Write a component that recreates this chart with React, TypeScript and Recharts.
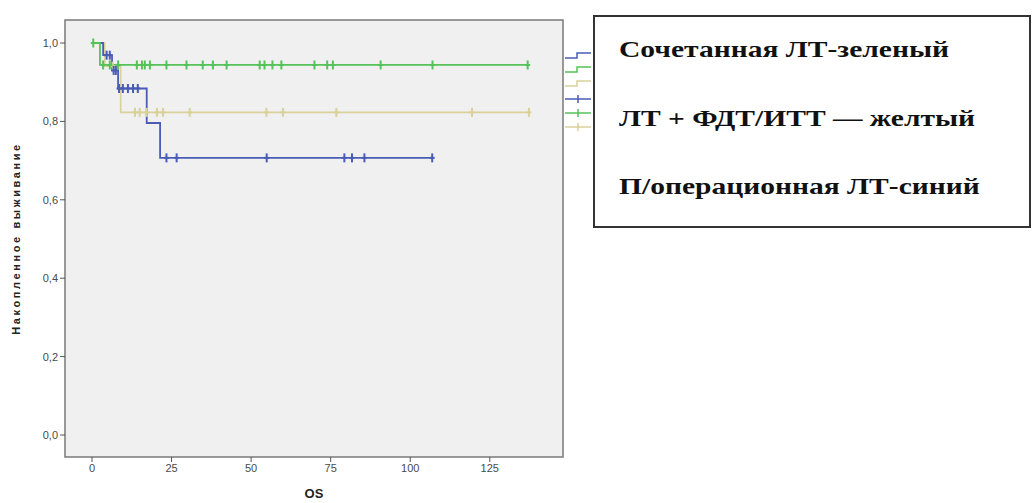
import {
  ComposedChart,
  Line,
  Scatter,
  XAxis,
  YAxis,
  CartesianGrid,
  ReferenceArea,
} from 'recharts';

// survival step curves: time (months) and cumulative survival
const greenTimes = [0, 2.5, 137];
const greenSurv = [1, 0.944, 0.944];
const greenCensorTimes = [3.5, 5.6, 8.2, 14.1, 15.7, 16.6, 18.2, 23.4, 29.7, 34.8, 38, 42.3, 52.7, 54.2, 56.7, 59.5, 69.9, 73.9, 75.7, 90.7, 107, 136.9];
const greenStartCensor = [0.4];

const yellowTimes = [0, 4, 9, 137.3];
const yellowSurv = [1, 0.941, 0.823, 0.823];
const yellowCensorTimes = [13.5, 15, 17.2, 20.4, 22.3, 30.7, 54.8, 60, 76.8, 119.4, 137.3];
const yellowMidCensor = [6.5];

const blueTimes = [0, 3.5, 6.3, 8.2, 17.2, 21.4, 106.9];
const blueSurv = [1, 0.969, 0.93, 0.884, 0.796, 0.707, 0.707];
const blueCensor969 = [4.6, 5.6];
const blueCensor930 = [6.8, 7.5];
const blueCensor884 = [8.5, 9.7, 11.3, 12.9, 14.4];
const blueCensor707 = [23.4, 26.6, 54.9, 79.3, 81.7, 85.6, 106.9];

const xTicks = [0, 25, 50, 75, 100, 125];
const yTicks = [0, 0.2, 0.4, 0.6, 0.8, 1];

const legendLines = [
  'Сочетанная ЛТ-зеленый',
  'ЛТ + ФДТ/ИТТ — желтый',
  'П/операционная ЛТ-синий',
];

const GREEN = '#55c25a';
const YELLOW = '#d9d19a';
const BLUE = '#4a5cb6';

const steps = (times: number[], surv: number[]) =>
  times.map((t, i) => ({ t, s: surv[i] }));
const marks = (times: number[], s: number) => times.map((t) => ({ t, s }));

const greenData = steps(greenTimes, greenSurv);
const yellowData = steps(yellowTimes, yellowSurv);
const blueData = steps(blueTimes, blueSurv);

const greenMarks = [...marks(greenStartCensor, 1), ...marks(greenCensorTimes, 0.944)];
const yellowMarks = [...marks(yellowMidCensor, 0.941), ...marks(yellowCensorTimes, 0.823)];
const blueMarks = [
  ...marks(blueCensor969, 0.969),
  ...marks(blueCensor930, 0.93),
  ...marks(blueCensor884, 0.884),
  ...marks(blueCensor707, 0.707),
];

const X_MIN = -8.48;
const X_MAX = 148;
const Y_MIN = -0.0561;
const Y_MAX = 1.0587;

const censorShape = (color: string) => (props: any) => {
  const { cx, cy } = props;
  return (
    <g>
      <line x1={cx} x2={cx} y1={cy - 4.5} y2={cy + 4.5} stroke={color} strokeWidth={2} />
      <line x1={cx - 2.5} x2={cx + 2.5} y1={cy} y2={cy} stroke={color} strokeWidth={2} />
    </g>
  );
};

// the cut-off SPSS legend glyphs peeking out from behind the text box
const SpssLegend = () => (
  <svg width={30} height={90} style={{ position: 'absolute', left: 563, top: 50 }}>
    <path d="M2 8 H14 V3 H28" fill="none" stroke={BLUE} strokeWidth={1.5} />
    <path d="M2 22 H14 V17 H28" fill="none" stroke={GREEN} strokeWidth={1.5} />
    <path d="M2 36 H14 V31 H28" fill="none" stroke={YELLOW} strokeWidth={1.5} />
    <g stroke={BLUE} strokeWidth={1.5}>
      <line x1={2} x2={28} y1={49} y2={49} />
      <line x1={15} x2={15} y1={45} y2={53} />
    </g>
    <g stroke={GREEN} strokeWidth={1.5}>
      <line x1={2} x2={28} y1={63} y2={63} />
      <line x1={15} x2={15} y1={59} y2={67} />
    </g>
    <g stroke={YELLOW} strokeWidth={1.5}>
      <line x1={2} x2={28} y1={77} y2={77} />
      <line x1={15} x2={15} y1={73} y2={81} />
    </g>
  </svg>
);

const App = () => {
  return (
    <div
      style={{
        position: 'absolute',
        left: 0,
        top: 0,
        width: 1036,
        height: 503,
        background: '#fff',
        fontFamily: 'Arial, "Liberation Sans", sans-serif',
      }}
    >
      <ComposedChart
        width={1036}
        height={503}
        margin={{ top: 20, right: 473, bottom: 0, left: 0 }}
      >
        <CartesianGrid horizontal={false} vertical={false} fill='#f0f0f0' />
        <ReferenceArea
          x1={X_MIN}
          x2={X_MAX}
          y1={Y_MIN}
          y2={Y_MAX}
          fill='#f0f0f0'
          fillOpacity={1}
          stroke='#7a7a7a'
          strokeWidth={1.5}
          ifOverflow='visible'
        />
        <XAxis
          type='number'
          dataKey='t'
          domain={[X_MIN, X_MAX]}
          ticks={xTicks}
          allowDataOverflow
          axisLine={false}
          tickLine={{ stroke: '#555' }}
          tickSize={5}
          tick={{ fontSize: 11, fill: '#4a4a4a' }}
          height={46}
          label={{
            value: 'OS',
            position: 'insideBottom',
            offset: 5,
            style: { fontSize: 13, fontWeight: 700, fill: '#222' },
          }}
        />
        <YAxis
          type='number'
          dataKey='s'
          domain={[Y_MIN, Y_MAX]}
          ticks={yTicks}
          allowDataOverflow
          axisLine={false}
          tickLine={{ stroke: '#555' }}
          tickSize={5}
          tick={{ fontSize: 11, fill: '#4a4a4a' }}
          tickFormatter={(v: number) => v.toFixed(1).replace('.', ',')}
          width={65}
          label={{
            value: 'Накопленное выживание',
            angle: -90,
            position: 'insideLeft',
            offset: 16,
            style: { fontSize: 11, fontWeight: 700, fill: '#222', letterSpacing: 2.6, textAnchor: 'middle' },
          }}
        />
        <Line data={yellowData} dataKey='s' type='stepAfter' stroke={YELLOW} strokeWidth={1.6} dot={false} isAnimationActive={false} legendType='none' />
        <Line data={blueData} dataKey='s' type='stepAfter' stroke={BLUE} strokeWidth={1.8} dot={false} isAnimationActive={false} legendType='none' />
        <Line data={greenData} dataKey='s' type='stepAfter' stroke={GREEN} strokeWidth={1.8} dot={false} isAnimationActive={false} legendType='none' />
        <Scatter data={yellowMarks} dataKey='s' shape={censorShape(YELLOW)} isAnimationActive={false} legendType='none' />
        <Scatter data={blueMarks} dataKey='s' shape={censorShape(BLUE)} isAnimationActive={false} legendType='none' />
        <Scatter data={greenMarks} dataKey='s' shape={censorShape(GREEN)} isAnimationActive={false} legendType='none' />
      </ComposedChart>
      <SpssLegend />
      <div
        style={{
          position: 'absolute',
          left: 593,
          top: 15,
          width: 438,
          height: 213,
          boxSizing: 'border-box',
          border: '2px solid #333',
          background: '#fff',
          fontFamily: '"Liberation Serif", "Times New Roman", serif',
          fontWeight: 700,
          fontSize: 24,
          color: '#111',
        }}
      >
        {legendLines.map((line, i) => (
          <div
            key={line}
            style={{
              position: 'absolute',
              left: 24,
              top: 18 + i * 68.5,
              lineHeight: '28px',
              whiteSpace: 'nowrap',
              transform: 'scaleX(1.23)',
              transformOrigin: 'left center',
            }}
          >
            {line}
          </div>
        ))}
      </div>
    </div>
  );
};

export default App;
